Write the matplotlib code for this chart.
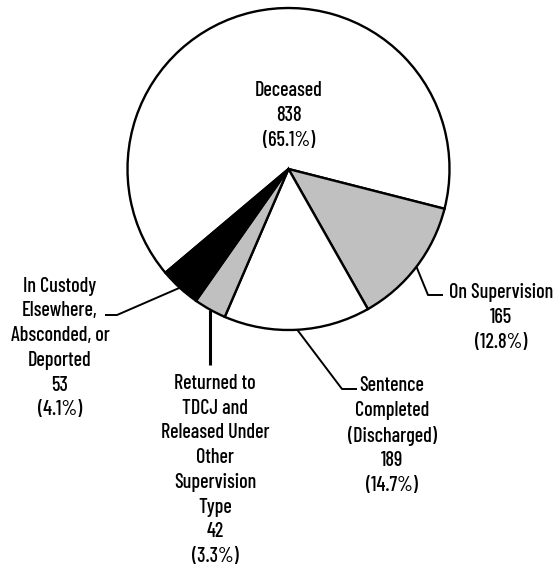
import numpy as np
import matplotlib
matplotlib.use("Agg")
import matplotlib.pyplot as plt

plt.rcParams['font.family'] = ['Barlow Condensed', 'DejaVu Sans']
plt.rcParams['font.weight'] = 500

# data
names = ['Deceased', 'On Supervision', 'Sentence\nCompleted\n(Discharged)',
         'Returned to\nTDCJ and\nReleased Under\nOther\nSupervision\nType',
         'In Custody\nElsewhere,\nAbsconded, or\nDeported']
counts = [838, 165, 189, 42, 53]
colors = ['white', '#c0c0c0', 'white', '#c0c0c0', 'black']

W, H = 557, 573
total = sum(counts)
pcts = [c / total * 100 for c in counts]

fig = plt.figure(figsize=(W / 100, H / 100), dpi=100)
ax = fig.add_axes([0, 0, 1, 1])

cx, cy, r = 288.5, H - 169, 161
start = -14.3 + 360 * counts[0] / total
wedges, _ = ax.pie(counts, colors=colors, startangle=start, counterclock=False,
                   radius=r, center=(cx, cy),
                   wedgeprops=dict(edgecolor='black', linewidth=1.7))
ax.set_xlim(0, W)
ax.set_ylim(0, H)
ax.set_aspect('equal')
ax.axis('off')

labels = [f"{n}\n{c}\n({p:.1f}%)" for n, c, p in zip(names, counts, pcts)]

# label centres (pixel, y from top) and connector elbows
text_pos = [(289, 115.5), (501, 317.5), (392, 435.5), (215, 470), (60, 348)]
elbows = [None, [(428, 295), (443, 295)], [(342, 389), (357, 389)],
          [(None, 365)], [(117, 315), (105, 315)]]
lws = [0, 1.4, 1.4, 2.2, 1.4]

for i, w in enumerate(wedges):
    tx, ty = text_pos[i]
    ax.text(tx, H - ty, labels[i], ha='center', va='center', fontsize=14.5,
            linespacing=1.38, color='black')
    if elbows[i] is None:
        continue
    mid = np.deg2rad((w.theta1 + w.theta2) / 2)
    x0, y0 = cx + r * np.cos(mid), cy + r * np.sin(mid)
    xs, ys = [x0], [y0]
    for ex, ey in elbows[i]:
        xs.append(x0 if ex is None else ex)
        ys.append(H - ey)
    ax.plot(xs, ys, color='black', lw=lws[i], solid_capstyle='butt')

fig.savefig('out.png', dpi=100)
